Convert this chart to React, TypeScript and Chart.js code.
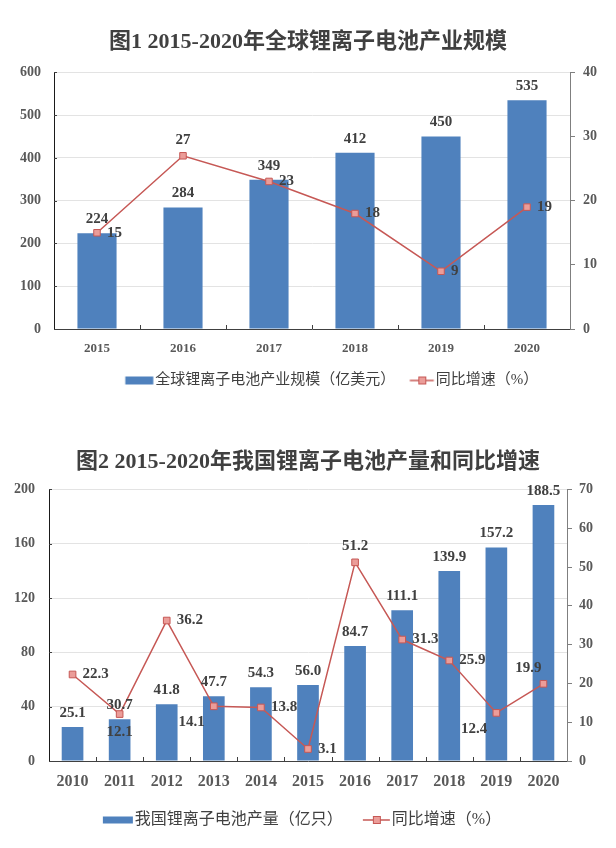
import React, { useEffect, useRef } from 'react';
import { Chart, registerables } from 'chart.js';

Chart.register(...registerables);

const FONT = '"Liberation Serif", "Noto Sans CJK SC", serif';
const BAR = '#4f81bd';
const LINE = '#c65855';
const MARKER_FILL = '#eb9d99';
const TEXT = '#404040';
const TICK = '#595959';
const GRID = '#e3e3e3';

// ---------- Figure 1 data ----------
const title1 = '图1 2015-2020年全球锂离子电池产业规模';
const years1 = ['2015', '2016', '2017', '2018', '2019', '2020'];
const marketSize1 = [224, 284, 349, 412, 450, 535];
const growth1 = [15, 27, 23, 18, 9, 19];
const growth1LabelPos = ['r', 'a', 'r', 'r', 'r', 'r'];
const barName1 = '全球锂离子电池产业规模（亿美元）';
const lineName1 = '同比增速（%）';
const leftAxis1 = [0, 600, 100];
const rightAxis1 = [0, 40, 10];

// ---------- Figure 2 data ----------
const title2 = '图2 2015-2020年我国锂离子电池产量和同比增速';
const years2 = ['2010', '2011', '2012', '2013', '2014', '2015', '2016', '2017', '2018', '2019', '2020'];
const output2 = [25.1, 30.7, 41.8, 47.7, 54.3, 56.0, 84.7, 111.1, 139.9, 157.2, 188.5];
const growth2 = [22.3, 12.1, 36.2, 14.1, 13.8, 3.1, 51.2, 31.3, 25.9, 12.4, 19.9];
const growth2LabelPos = ['r', 'b', 'r', 'bl', 'r', 'r', 'a', 'r', 'r', 'bl', 'al'];
const barName2 = '我国锂离子电池产量（亿只）';
const lineName2 = '同比增速（%）';
const leftAxis2 = [0, 200, 40];
const rightAxis2 = [0, 70, 10];

function makeIcon(kind: 'bar' | 'line', contentW: number, contentH: number, boxW: number, fontSize: number, gap: number) {
  const R = boxW / 2 + fontSize / 2 - gap;
  const L = R - contentW;
  const H = Math.ceil(Math.max(Math.abs(L), Math.abs(R))) + 1;
  const c = document.createElement('canvas');
  const h = 12;
  c.width = 2 * H;
  c.height = h;
  const ctx = c.getContext('2d')!;
  const x0 = H + L;
  if (kind === 'bar') {
    ctx.fillStyle = BAR;
    ctx.fillRect(x0, (h - contentH) / 2, contentW, contentH);
  } else {
    ctx.strokeStyle = LINE;
    ctx.lineWidth = 1.5;
    ctx.beginPath();
    ctx.moveTo(x0, h / 2);
    ctx.lineTo(x0 + contentW, h / 2);
    ctx.stroke();
    const s = 7;
    const cx = Math.round(x0 + contentW / 2);
    ctx.fillStyle = MARKER_FILL;
    ctx.fillRect(cx - s / 2, h / 2 - s / 2, s, s);
    ctx.lineWidth = 1;
    ctx.strokeRect(cx - s / 2, h / 2 - s / 2, s, s);
  }
  return c;
}

function makeValueLabels(barDecimals: number, linePos: string[], size: number) {
  return {
    id: 'valueLabels',
    afterDatasetsDraw(chart: any) {
      const ctx = chart.ctx;
      ctx.save();
      ctx.font = `bold ${size}px ${FONT}`;
      ctx.fillStyle = TEXT;
      ctx.textBaseline = 'middle';
      const bars = chart.getDatasetMeta(0).data;
      const barVals = chart.data.datasets[0].data;
      bars.forEach((el: any, i: number) => {
        ctx.textAlign = 'center';
        ctx.fillText(Number(barVals[i]).toFixed(barDecimals), el.x, el.y - 14);
      });
      const pts = chart.getDatasetMeta(1).data;
      const lineVals = chart.data.datasets[1].data;
      pts.forEach((el: any, i: number) => {
        const p = linePos[i];
        let dx = 0, dy = 0, align = 'center';
        if (p === 'r') { dx = 10; align = 'left'; }
        else if (p === 'a') { dy = -16; }
        else if (p === 'b') { dy = 18; }
        else if (p === 'bl') { dx = -9; dy = 16; align = 'right'; }
        else if (p === 'al') { dx = -2; dy = -16; align = 'right'; }
        ctx.textAlign = align;
        ctx.fillText(String(lineVals[i]), el.x + dx, el.y + dy);
      });
      // inner tick marks on category axis
      const xs = chart.scales.x;
      const bottom = chart.chartArea.bottom;
      ctx.strokeStyle = '#404040';
      ctx.lineWidth = 1;
      for (let k = 1; k < chart.data.labels.length; k++) {
        const px = Math.round(xs.getPixelForValue(k - 0.5)) + 0.5;
        ctx.beginPath();
        ctx.moveTo(px, bottom);
        ctx.lineTo(px, bottom - 4);
        ctx.stroke();
      }
      // inner tick marks on left value axis
      const ys = chart.scales.y;
      const left = chart.chartArea.left;
      ys.ticks.forEach((t: any) => {
        const py = Math.round(ys.getPixelForValue(t.value)) + 0.5;
        ctx.beginPath();
        ctx.moveTo(left, py);
        ctx.lineTo(left + 3, py);
        ctx.stroke();
      });
      ctx.restore();
    },
  };
}

interface Cfg {
  title: string;
  labels: string[];
  bars: number[];
  line: number[];
  barName: string;
  lineName: string;
  left: number[];
  right: number[];
  linePos: string[];
  barDecimals: number;
  titlePad: { top: number; bottom: number };
  bottomPad: number;
  xHeight: number;
  xFont: number;
  xPad: number;
  yFont: number;
  leftW: number;
  rightW: number;
  leftPad: number;
  rightPad: number;
  legendFont: number;
  legendPad: number;
  barIconW: number;
  barIconH: number;
  lineIconW: number;
  legendShift: number;
  barPct: number;
  pointR: number;
}

function build(canvas: HTMLCanvasElement, c: Cfg) {
  const boxW = 20;
  const icons = [
    makeIcon('bar', c.barIconW, c.barIconH, boxW, c.legendFont, 2),
    makeIcon('line', c.lineIconW, 0, boxW, c.legendFont, 2),
  ];
  const shiftPlugin = {
    id: 'legendShift',
    afterLayout(chart: any) {
      if (chart.legend) {
        chart.legend.left += c.legendShift;
        chart.legend.right += c.legendShift;
      }
    },
  };
  return new Chart(canvas, {
    type: 'bar',
    data: {
      labels: c.labels,
      datasets: [
        {
          type: 'bar',
          label: c.barName,
          data: c.bars,
          backgroundColor: BAR,
          yAxisID: 'y',
          order: 1,
          barPercentage: c.barPct,
          categoryPercentage: 1,
        },
        {
          type: 'line',
          label: c.lineName,
          data: c.line,
          borderColor: LINE,
          borderWidth: 1.5,
          backgroundColor: MARKER_FILL,
          pointStyle: 'rect',
          pointRadius: c.pointR,
          pointBorderColor: LINE,
          pointBackgroundColor: MARKER_FILL,
          pointBorderWidth: 1,
          yAxisID: 'y1',
          order: 0,
          tension: 0,
        },
      ] as any,
    },
    options: {
      responsive: false,
      animation: false,
      devicePixelRatio: 1,
      layout: { padding: { left: 0, right: 0, top: 0, bottom: c.bottomPad } },
      plugins: {
        tooltip: { enabled: false },
        title: {
          display: true,
          text: c.title,
          color: TEXT,
          font: { family: FONT, size: 22, weight: 'bold' },
          padding: c.titlePad,
        },
        legend: {
          display: true,
          position: 'bottom',
          labels: {
            usePointStyle: true,
            pointStyleWidth: boxW,
            boxHeight: c.legendFont,
            padding: c.legendPad,
            color: TEXT,
            font: { family: FONT, size: c.legendFont },
            generateLabels: (chart: any) =>
              chart.data.datasets.map((ds: any, i: number) => ({
                text: ds.label,
                pointStyle: icons[i],
                fillStyle: 'rgba(0,0,0,0)',
                strokeStyle: 'rgba(0,0,0,0)',
                lineWidth: 0,
                hidden: false,
                datasetIndex: i,
                fontColor: TEXT,
              })),
          },
        },
      },
      scales: {
        x: {
          grid: { display: false, drawTicks: false },
          border: { display: true, color: '#404040', width: 1 },
          ticks: {
            color: TICK,
            font: { family: FONT, size: c.xFont, weight: 'bold' },
            padding: c.xPad,
            autoSkip: false,
            maxRotation: 0,
          },
          afterFit: (s: any) => { s.height = c.xHeight; },
        },
        y: {
          position: 'left',
          min: c.left[0],
          max: c.left[1],
          ticks: {
            stepSize: c.left[2],
            color: TICK,
            font: { family: FONT, size: c.yFont, weight: 'bold' },
            padding: c.leftPad,
          },
          grid: { color: GRID, drawTicks: false, lineWidth: 1 },
          border: { display: true, color: '#1a1a1a', width: 1 },
          afterFit: (s: any) => { s.width = c.leftW; },
        },
        y1: {
          position: 'right',
          min: c.right[0],
          max: c.right[1],
          ticks: {
            stepSize: c.right[2],
            color: TICK,
            font: { family: FONT, size: c.yFont, weight: 'bold' },
            padding: c.rightPad,
          },
          grid: { drawOnChartArea: false, drawTicks: true, tickLength: 5, color: '#7f7f7f' },
          border: { display: true, color: '#7f7f7f', width: 1 },
          afterFit: (s: any) => { s.width = c.rightW; },
        },
      } as any,
    } as any,
    plugins: [makeValueLabels(c.barDecimals, c.linePos, 15), shiftPlugin] as any,
  });
}

export default function App() {
  const ref1 = useRef<HTMLCanvasElement>(null);
  const ref2 = useRef<HTMLCanvasElement>(null);

  useEffect(() => {
    const c1 = build(ref1.current!, {
      title: title1,
      labels: years1,
      bars: marketSize1,
      line: growth1,
      barName: barName1,
      lineName: lineName1,
      left: leftAxis1,
      right: rightAxis1,
      linePos: growth1LabelPos,
      barDecimals: 0,
      titlePad: { top: 29, bottom: 17 },
      bottomPad: 22,
      xHeight: 31,
      xFont: 13,
      xPad: 12,
      yFont: 14,
      leftW: 54,
      rightW: 46,
      leftPad: 13,
      rightPad: 8,
      legendFont: 15,
      legendPad: 13,
      barIconW: 28,
      barIconH: 8,
      lineIconW: 24,
      legendShift: 25,
      barPct: 0.455,
      pointR: 4.6,
    });
    const c2 = build(ref2.current!, {
      title: title2,
      labels: years2,
      bars: output2,
      line: growth2,
      barName: barName2,
      lineName: lineName2,
      left: leftAxis2,
      right: rightAxis2,
      linePos: growth2LabelPos,
      barDecimals: 1,
      titlePad: { top: 29, bottom: 14 },
      bottomPad: 10,
      xHeight: 30,
      xFont: 16,
      xPad: 11,
      yFont: 14,
      leftW: 49,
      rightW: 49,
      leftPad: 14,
      rightPad: 7,
      legendFont: 16,
      legendPad: 21,
      barIconW: 30,
      barIconH: 7,
      lineIconW: 27,
      legendShift: -4,
      barPct: 0.46,
      pointR: 4.7,
    });
    return () => {
      c1.destroy();
      c2.destroy();
    };
  }, []);

  return (
    <div style={{ position: 'absolute', left: 0, top: 0, width: 616, height: 848, background: '#fff' }}>
      <canvas ref={ref1} width={616} height={420} style={{ display: 'block' }} />
      <canvas ref={ref2} width={616} height={428} style={{ display: 'block' }} />
    </div>
  );
}
